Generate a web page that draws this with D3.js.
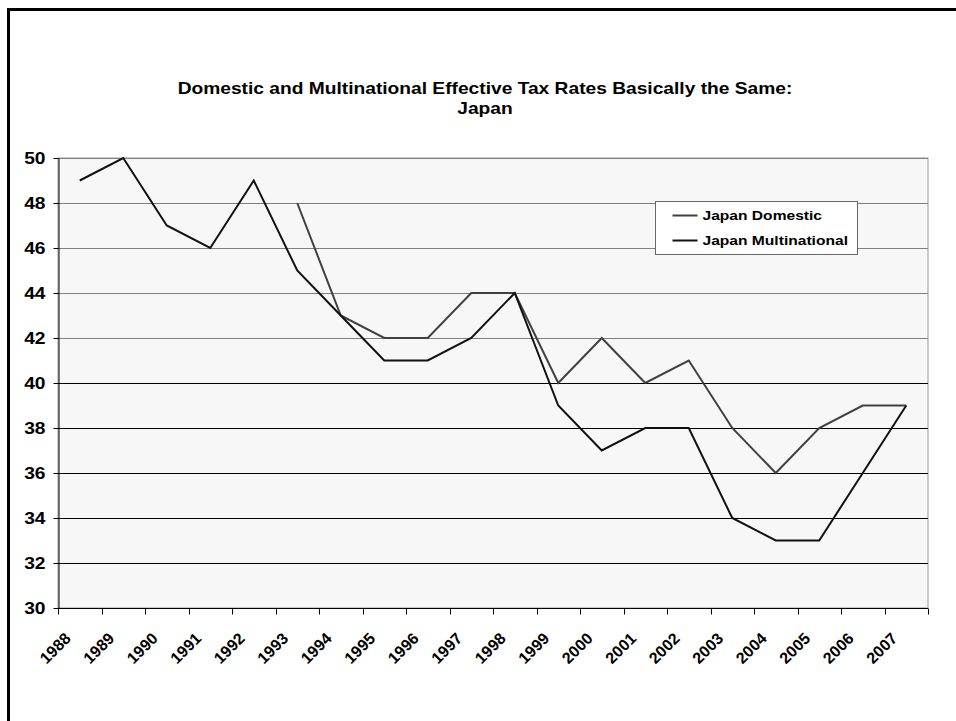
<!DOCTYPE html>
<html lang="en">
<head>
<meta charset="UTF-8">
<title>Japan Effective Tax Rates</title>
<script src="https://d3js.org/d3.v7.min.js"></script>
<style>
  body { margin: 0; background: #fff; font-family: Arial, "Liberation Sans", sans-serif; }
  svg { display: block; }
</style>
</head>
<body>
<svg id="chart"></svg>
<script>
const years = ["1988","1989","1990","1991","1992","1993","1994","1995","1996","1997",
               "1998","1999","2000","2001","2002","2003","2004","2005","2006","2007"];
const domestic = [null,null,null,null,null,48,43,42,42,44,44,40,42,40,41,38,36,38,39,39];
const multinational = [49,50,47,46,49,45,43,41,41,42,44,39,37,38,38,34,33,33,36,39];
const yTicks = [30,32,34,36,38,40,42,44,46,48,50];
const titleLines = ["Domestic and Multinational Effective Tax Rates Basically the Same:", "Japan"];
const seriesNames = ["Japan Domestic", "Japan Multinational"];

const W = 956, H = 721;
const plot = { left: 58, right: 928, top: 158, bottom: 608 };
// the original picture is a bit wider than tall, so text is stretched sideways
const stretch = 1.2;

const svg = d3.select("#chart").attr("width", W).attr("height", H);

// outer frame (runs off the right and bottom edges)
svg.append("rect")
  .attr("x", 8.5).attr("y", 9.5)
  .attr("width", 970).attr("height", 740)
  .attr("fill", "none").attr("stroke", "#000").attr("stroke-width", 3);

// title
svg.append("g")
  .attr("transform", `translate(485,0) scale(${stretch},1)`)
  .selectAll("text").data(titleLines).join("text")
  .attr("x", 0).attr("y", (d, i) => 94 + i * 20)
  .attr("text-anchor", "middle")
  .style("font-weight", "bold").style("font-size", "16px")
  .text(d => d);

const x = d3.scaleBand().domain(years).range([plot.left, plot.right]);
const y = d3.scaleLinear().domain([30, 50]).range([plot.bottom, plot.top]);

// plot background
svg.append("rect")
  .attr("x", plot.left).attr("y", plot.top)
  .attr("width", plot.right - plot.left).attr("height", plot.bottom - plot.top)
  .attr("fill", "#f7f7f7").attr("stroke", "#999");

// gridlines
svg.append("g").selectAll("line").data(yTicks.filter(t => t > 30)).join("line")
  .attr("x1", plot.left).attr("x2", plot.right)
  .attr("y1", d => Math.round(y(d)) + 0.5).attr("y2", d => Math.round(y(d)) + 0.5)
  .attr("stroke", d => d > 40 ? "#808080" : "#000")
  .attr("stroke-width", 1);

// y axis
const yAxis = svg.append("g")
  .attr("transform", `translate(${plot.left + 0.5},0)`)
  .call(d3.axisLeft(y).tickValues(yTicks).tickSize(5).tickPadding(8).tickSizeOuter(0));
yAxis.select(".domain").attr("stroke", "#000");
yAxis.selectAll("text")
  .attr("x", -13 / stretch)
  .attr("transform", `scale(${stretch},1)`)
  .style("font-family", "Arial, 'Liberation Sans', sans-serif")
  .style("font-size", "16px").style("font-weight", "bold").attr("fill", "#000");

// x axis: ticks at category boundaries
const xg = svg.append("g").attr("transform", `translate(0,${plot.bottom + 0.5})`);
xg.append("line")
  .attr("x1", plot.left).attr("x2", plot.right).attr("stroke", "#000");
const bounds = years.map(d => x(d)).concat([plot.right]);
xg.selectAll("line.tick").data(bounds).join("line").attr("class", "tick")
  .attr("x1", d => Math.round(d) + 0.5).attr("x2", d => Math.round(d) + 0.5)
  .attr("y1", 0).attr("y2", 6).attr("stroke", "#000");
xg.selectAll("text").data(years).join("text")
  .attr("transform", d => `translate(${x(d) + x.bandwidth() / 2 - 8},31) rotate(-45)`)
  .attr("text-anchor", "end")
  .style("font-size", "16px").style("font-weight", "bold")
  .text(d => d);

// lines
const line = d3.line()
  .defined(d => d.v != null)
  .x(d => x(d.year) + x.bandwidth() / 2)
  .y(d => y(d.v));

const series = [
  { name: seriesNames[0], values: domestic, color: "#404040" },
  { name: seriesNames[1], values: multinational, color: "#111" }
];

svg.append("g").selectAll("path").data(series).join("path")
  .attr("fill", "none")
  .attr("stroke", d => d.color)
  .attr("stroke-width", 2)
  .attr("stroke-linejoin", "miter")
  .attr("d", d => line(years.map((yr, i) => ({ year: yr, v: d.values[i] }))));

// legend
const lg = svg.append("g").attr("transform", "translate(655.5,201.5)");
lg.append("rect").attr("width", 202).attr("height", 53)
  .attr("fill", "#fff").attr("stroke", "#666");
const items = lg.selectAll("g").data(series).join("g")
  .attr("transform", (d, i) => `translate(0,${14 + i * 25})`);
items.append("line").attr("x1", 17).attr("x2", 42)
  .attr("stroke", d => d.color).attr("stroke-width", 2);
items.append("text")
  .attr("transform", "translate(47,0) scale(1.2,1)")
  .attr("dy", "0.35em")
  .style("font-size", "13px").style("font-weight", "bold")
  .text(d => d.name);
</script>
</body>
</html>
